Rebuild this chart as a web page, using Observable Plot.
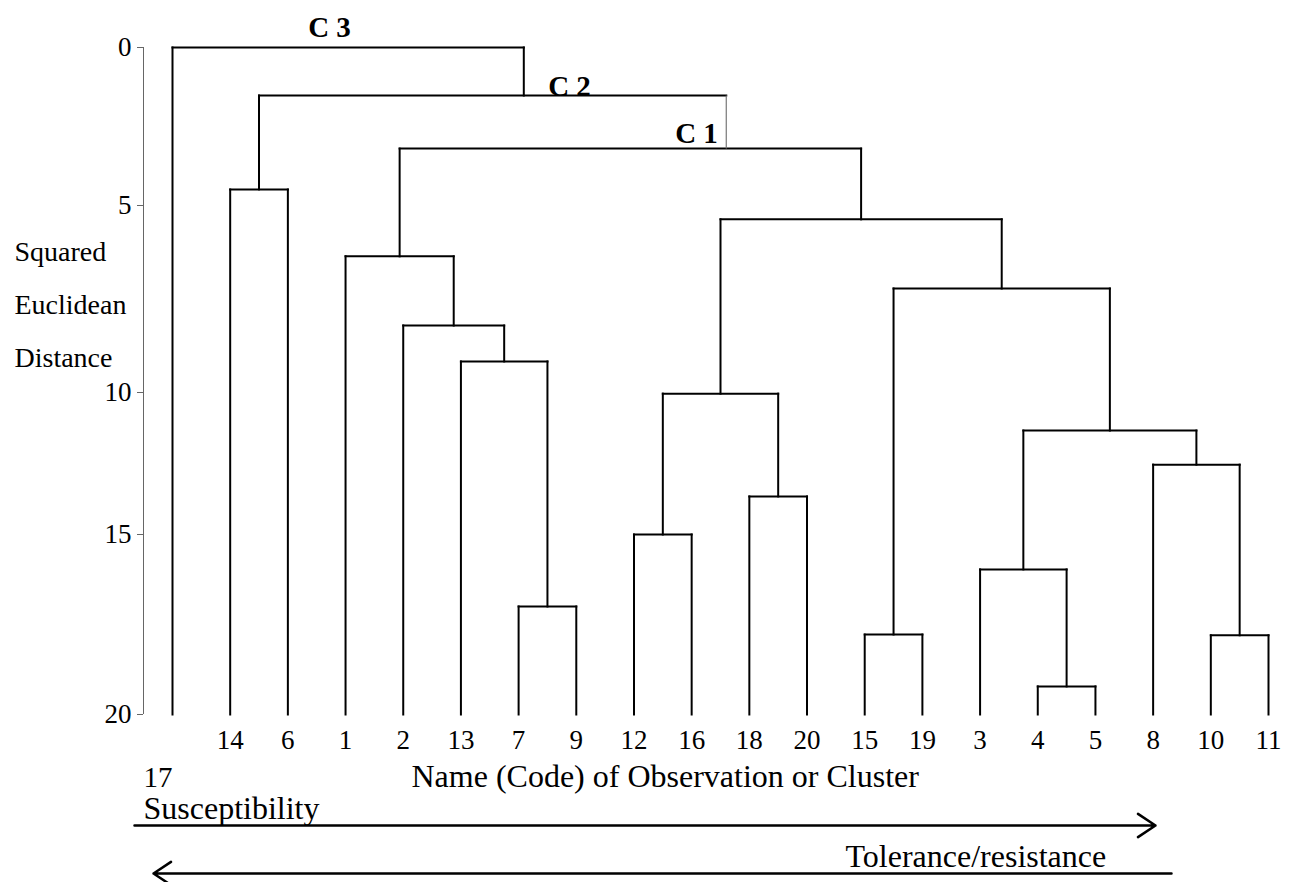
<!DOCTYPE html>
<html>
<head>
<meta charset="utf-8">
<script src="https://cdn.jsdelivr.net/npm/d3@7"></script>
<script src="https://cdn.jsdelivr.net/npm/@observablehq/plot@0.6"></script>
<style>
  html, body { margin: 0; padding: 0; background: #fff; }
</style>
</head>
<body>
<div id="chart"></div>
<script>
// ---------- data ----------
const leaves = ["17","14","6","1","2","13","7","9","12","16","18","20","15","19","3","4","5","8","10","11"];
const mergeNode   = ["n1","n2","n3","n4","n5","n6","n7","n8","n9","n10","n11","n12","n13","n14","n15","n16","n17","n18","n19"];
const mergeLeft   = ["4","10","15","7","3","12","18","8","n5","n6","13","2","n3","1","n10","14","n14","n16","17"];
const mergeRight  = ["5","11","19","9","n1","16","20","n2","n8","n7","n4","n11","n9","n12","n13","6","n15","n17","n18"];
const mergeHeight = [19.22,17.8,17.78,17.0,15.97,15.0,13.66,12.54,11.34,10.04,9.17,8.21,7.22,6.36,5.37,4.49,3.2,1.52,0];
// stems drawn off-centre in the reference (in leaf-order units)
const stemNode = ["n17","n18"];
const stemAt   = [9.6, 6.09];
const clusterLabels = ["C 1","C 2","C 3"];
const yTicks = [0,5,10,15,20];
const axisTitleLines = ["Squared","Euclidean","Distance"];
const xTitle = "Name (Code) of Observation or Cluster";
const arrowLabels = ["Susceptibility","Tolerance/resistance"];

// ---------- layout ----------
const W = 1293, H = 882;
const xRange = [172, 1268];
const yTop = 47, yBottom = 714;
const tickPix = [47, 205, 392, 534, 714];   // the reference's axis is not evenly spaced
const xPix = d3.scaleLinear().domain([0, leaves.length - 1]).range(xRange);
const yPix = d3.scaleLinear().domain(yTicks).range(tickPix);
// maps a distance value to an evenly spaced 0..20 unit so Plot's linear scale reproduces the uneven axis
const yWarp = v => (yPix(v) - yTop) / (yBottom - yTop) * 20;
const FONT = "'Liberation Serif', 'Times New Roman', Times, serif";

// ---------- build the tree geometry ----------
const pos = new Map(leaves.map((d, i) => [d, i]));
const hgt = new Map(leaves.map(d => [d, 20]));
mergeNode.forEach((n, i) => {
  const a = mergeLeft[i], b = mergeRight[i];
  const si = stemNode.indexOf(n);
  pos.set(n, si >= 0 ? stemAt[si] : (pos.get(a) + pos.get(b)) / 2);
  hgt.set(n, mergeHeight[i]);
});
const horiz = mergeNode.map((n, i) => ({x1: pos.get(mergeLeft[i]), x2: pos.get(mergeRight[i]), y: mergeHeight[i]}));
const vert = [];
mergeNode.forEach((n, i) => {
  for (const c of [mergeLeft[i], mergeRight[i]]) {
    vert.push({child: c, x: pos.get(c), y1: hgt.get(c), y2: mergeHeight[i]});
  }
});
const leafData = leaves.map((d, i) => ({name: d, i, base: 20}));
const tickData = yTicks.map(v => ({v}));

const arrows = [
  {x1: xPix.invert(134), x2: xPix.invert(1155), y: yPix.invert(825)},
  {x1: xPix.invert(1171), x2: xPix.invert(153), y: yPix.invert(873)}
];

const txt = (text, dx, dy, opts = {}) => Plot.text([text], {
  text: d => d, frameAnchor: "top-left", dx, dy,
  textAnchor: "start", lineAnchor: "bottom",
  fontFamily: FONT, fontSize: 32, fill: "black", ...opts
});

const chart = Plot.plot({
  width: W, height: H,
  marginLeft: 143, marginTop: yTop, marginRight: W - xRange[1], marginBottom: H - yBottom,
  style: {fontFamily: FONT, background: "#fff"},
  x: {domain: [0, leaves.length - 1], range: xRange, axis: null},
  y: {domain: [0, 20], range: [yTop, yBottom], transform: yWarp, axis: null},
  marks: [
    // y axis: line, ticks, labels
    Plot.ruleX([xPix.invert(143)], {y1: 0, y2: 20, stroke: "#666", strokeWidth: 1}),
    Plot.ruleY(tickData, {y: "v", x1: xPix.invert(137), x2: xPix.invert(143), stroke: "#666", strokeWidth: 1}),
    Plot.text(tickData, {y: "v", text: d => String(d.v), frameAnchor: "left", dx: -12, textAnchor: "end",
      fontFamily: FONT, fontSize: 27, fill: "black"}),
    // dendrogram
    Plot.link(horiz, {x1: "x1", x2: "x2", y1: "y", y2: "y", stroke: "black", strokeWidth: 2, strokeLinecap: "square"}),
    Plot.link(vert.filter(d => d.child !== "n17"), {x1: "x", x2: "x", y1: "y1", y2: "y2", stroke: "black", strokeWidth: 2, strokeLinecap: "square"}),
    Plot.link(vert.filter(d => d.child === "n17"), {x1: "x", x2: "x", y1: "y1", y2: "y2", stroke: "#777", strokeWidth: 1.2}),
    // leaf labels
    Plot.text(leafData.filter(d => d.i > 0), {x: "i", y: "base", text: "name", dy: 34, lineAnchor: "bottom",
      fontFamily: FONT, fontSize: 27, fill: "black"}),
    Plot.text(leafData.filter(d => d.i === 0), {x: "i", y: "base", text: "name", dx: -29, dy: 72, textAnchor: "start",
      lineAnchor: "bottom", fontFamily: FONT, fontSize: 29, fill: "black"}),
    // cluster labels
    txt(clusterLabels[2], 186, -11, {textAnchor: "middle", fontWeight: "bold", fontSize: 29}),
    txt(clusterLabels[1], 426, 48, {textAnchor: "middle", fontWeight: "bold", fontSize: 29}),
    txt(clusterLabels[0], 553, 95, {textAnchor: "middle", fontWeight: "bold", fontSize: 29}),
    // y axis title
    ...axisTitleLines.map((t, i) => txt(t, -129, 213 + 53 * i, {fontSize: 28})),
    // x title and arrow labels
    txt(xTitle, 268, 739),
    txt(arrowLabels[0], 0, 771),
    txt(arrowLabels[1], 702, 819),
    // arrows
    Plot.arrow(arrows, {x1: "x1", x2: "x2", y1: "y", y2: "y", stroke: "black", strokeWidth: 2.5,
      headLength: 12.6, headAngle: 67})
  ]
});
document.getElementById("chart").appendChild(chart);
</script>
</body>
</html>
